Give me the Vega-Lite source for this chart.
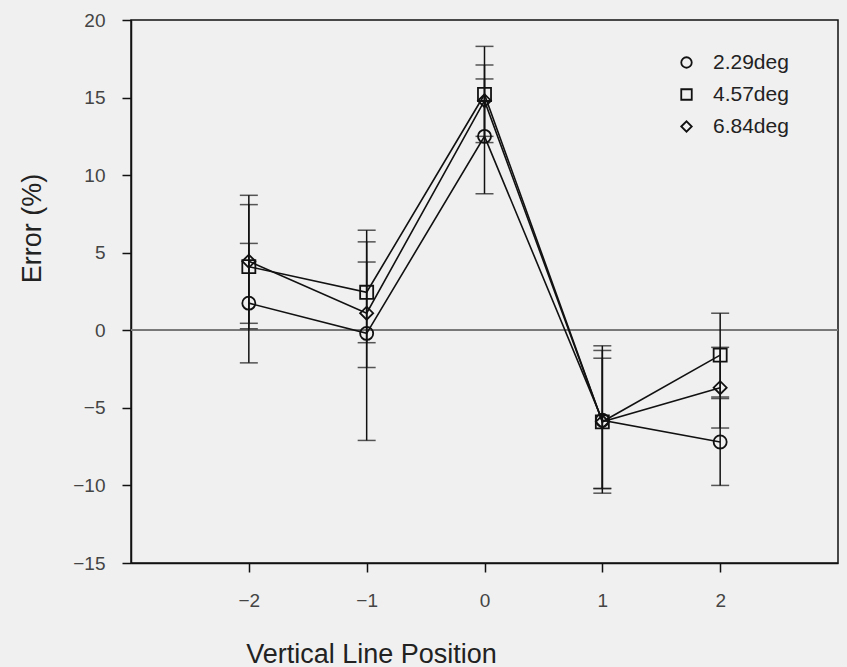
{
  "$schema": "https://vega.github.io/schema/vega-lite/v6.json",
  "autosize": "none",
  "width": 707,
  "height": 543,
  "padding": {"left": 131, "top": 20, "right": 9, "bottom": 104},
  "background": "#f0f0f0",
  "config": {
    "view": {"stroke": "#111", "strokeWidth": 1.5},
    "font": "Liberation Sans",
    "axis": {"grid": false, "domainColor": "#111", "domainWidth": 1.5, "tickColor": "#111", "tickWidth": 1.5, "labelColor": "#444", "titleColor": "#222", "titleFontWeight": "normal"}
  },
  "data": {
    "values": [
      {"pos": -2, "series": "2.29deg", "err": 1.75, "lo": -2.1, "hi": 5.6},
      {"pos": -1, "series": "2.29deg", "err": -0.2, "lo": -7.1, "hi": 6.45},
      {"pos": 0, "series": "2.29deg", "err": 12.5, "lo": 8.8, "hi": 16.2},
      {"pos": 1, "series": "2.29deg", "err": -5.8, "lo": -10.2, "hi": -1.3},
      {"pos": 2, "series": "2.29deg", "err": -7.2, "lo": -10.0, "hi": -4.4},
      {"pos": -2, "series": "4.57deg", "err": 4.1, "lo": 0.1, "hi": 8.1},
      {"pos": -1, "series": "4.57deg", "err": 2.45, "lo": -0.8, "hi": 5.7},
      {"pos": 0, "series": "4.57deg", "err": 15.2, "lo": 12.1, "hi": 18.3},
      {"pos": 1, "series": "4.57deg", "err": -5.9, "lo": -10.5, "hi": -1.0},
      {"pos": 2, "series": "4.57deg", "err": -1.6, "lo": -4.3, "hi": 1.1},
      {"pos": -2, "series": "6.84deg", "err": 4.45, "lo": 0.45, "hi": 8.7},
      {"pos": -1, "series": "6.84deg", "err": 1.1, "lo": -2.4, "hi": 4.4},
      {"pos": 0, "series": "6.84deg", "err": 14.8, "lo": 12.5, "hi": 17.1},
      {"pos": 1, "series": "6.84deg", "err": -5.9, "lo": -10.2, "hi": -1.8},
      {"pos": 2, "series": "6.84deg", "err": -3.7, "lo": -6.3, "hi": -1.1}
    ]
  },
  "encoding": {
    "x": {
      "field": "pos", "type": "quantitative",
      "scale": {"domain": [-3, 3], "nice": false},
      "axis": {"values": [-2, -1, 0, 1, 2], "title": "Vertical Line Position", "titleFontSize": 27, "titlePadding": 31, "titleX": 240, "titleAnchor": null, "titleAlign": "center", "labelFontSize": 19, "labelPadding": 19, "tickSize": 9}
    }
  },
  "layer": [
    {
      "mark": {"type": "rule", "color": "#777", "strokeWidth": 1},
      "encoding": {"y": {"datum": 0, "type": "quantitative"}, "x": null}
    },
    {
      "mark": {"type": "rule", "color": "#111", "strokeWidth": 1.5},
      "encoding": {
        "y": {"field": "lo", "type": "quantitative"},
        "y2": {"field": "hi"}
      }
    },
    {
      "mark": {"type": "tick", "orient": "horizontal", "color": "#111", "size": 18, "thickness": 1.5},
      "encoding": {"y": {"field": "lo", "type": "quantitative"}}
    },
    {
      "mark": {"type": "tick", "orient": "horizontal", "color": "#111", "size": 18, "thickness": 1.5},
      "encoding": {"y": {"field": "hi", "type": "quantitative"}}
    },
    {
      "mark": {"type": "line", "color": "#111", "strokeWidth": 1.6},
      "encoding": {
        "y": {"field": "err", "type": "quantitative"},
        "detail": {"field": "series"}
      }
    },
    {
      "mark": {"type": "point", "filled": false, "color": "#111", "strokeWidth": 1.8, "size": 170, "opacity": 1},
      "encoding": {
        "y": {
          "field": "err", "type": "quantitative",
          "scale": {"domain": [-15, 20], "nice": false},
          "axis": {"values": [-15, -10, -5, 0, 5, 10, 15, 20], "title": "Error (%)", "titleFontSize": 27, "titlePadding": 26, "titleY": 208, "titleAnchor": null, "titleAlign": "center", "labelFontSize": 19, "labelPadding": 17, "tickSize": 9}
        },
        "shape": {
          "field": "series", "type": "nominal",
          "scale": {"domain": ["2.29deg", "4.57deg", "6.84deg"], "range": ["circle", "square", "diamond"]},
          "legend": {"title": null, "orient": "none", "legendX": 545, "legendY": 32, "labelFontSize": 21, "labelColor": "#222", "symbolSize": 110, "symbolStrokeColor": "#111", "symbolStrokeWidth": 1.8, "rowPadding": 10, "labelOffset": 16}
        }
      }
    }
  ]
}
